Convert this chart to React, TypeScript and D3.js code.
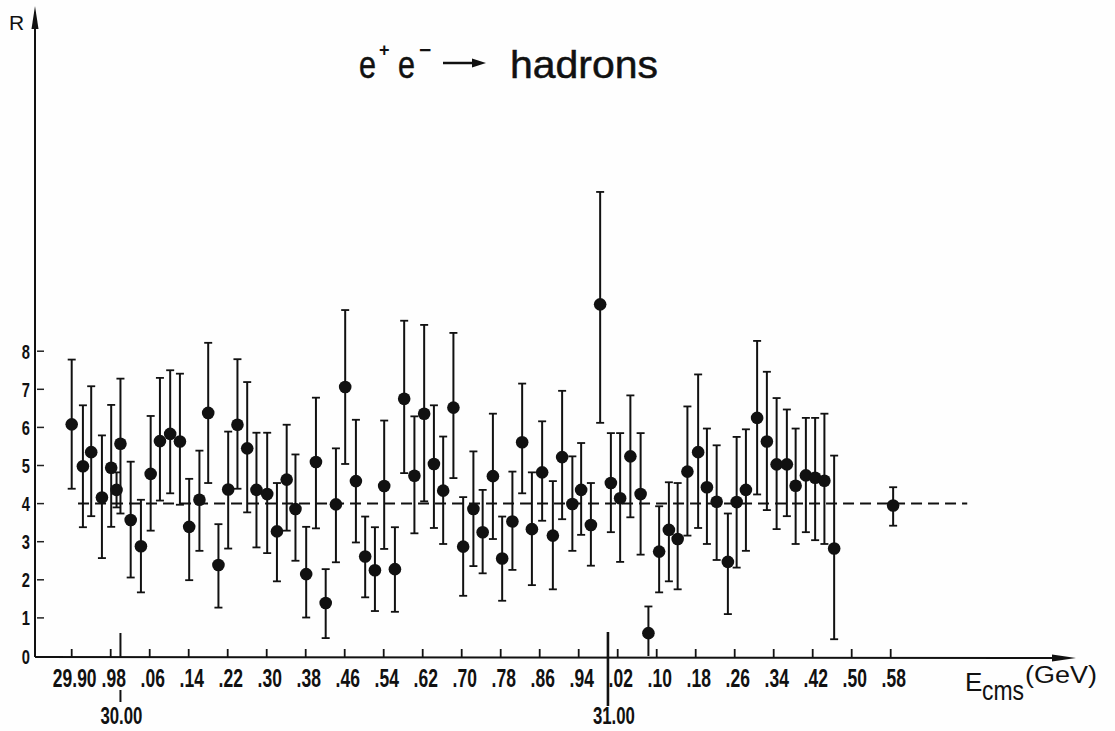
import React from "react";
import * as d3 from "d3";

// Centre-of-mass energy (GeV) of each measurement
const energies = [
  29.900, 29.923, 29.940, 29.962, 29.981, 29.992, 30.000, 30.021, 30.042, 30.062,
  30.081, 30.102, 30.122, 30.141, 30.162, 30.180, 30.201, 30.221, 30.240, 30.260,
  30.279, 30.301, 30.321, 30.341, 30.359, 30.381, 30.401, 30.421, 30.442, 30.461,
  30.483, 30.502, 30.522, 30.541, 30.563, 30.582, 30.603, 30.623, 30.643, 30.662,
  30.683, 30.703, 30.724, 30.743, 30.764, 30.783, 30.804, 30.824, 30.844, 30.865,
  30.887, 30.906, 30.927, 30.945, 30.965, 30.984, 31.006, 31.025, 31.046, 31.067,
  31.083, 31.105, 31.125, 31.143, 31.163, 31.185, 31.203, 31.223, 31.246, 31.264,
  31.283, 31.306, 31.326, 31.346, 31.367, 31.385, 31.406, 31.425, 31.444, 31.464,
  31.585,
];

// Measured R
const rValues = [
  6.08, 4.98, 5.35, 4.16, 4.94, 4.36, 5.57, 3.57, 2.88, 4.78,
  5.64, 5.83, 5.63, 3.39, 4.10, 6.38, 2.39, 4.37, 6.07, 5.45,
  4.36, 4.25, 3.27, 4.63, 3.86, 2.15, 5.09, 1.39, 3.98, 7.06,
  4.59, 2.61, 2.25, 4.46, 2.28, 6.75, 4.73, 6.36, 5.04, 4.34,
  6.52, 2.87, 3.86, 3.25, 4.72, 2.56, 3.53, 5.61, 3.33, 4.82,
  3.16, 5.22, 3.99, 4.36, 3.44, 9.23, 4.54, 4.14, 5.24, 4.25,
  0.60, 2.74, 3.31, 3.07, 4.84, 5.35, 4.43, 4.05, 2.47, 4.04,
  4.36, 6.25, 5.63, 5.03, 5.03, 4.47, 4.74, 4.68, 4.60, 2.82,
  3.95,
];

// Upper end of error bar
const errTop = [
  7.78, 6.58, 7.08, 5.79, 6.59, 4.82, 7.28, 5.10, 4.10, 6.30,
  7.30, 7.50, 7.41, 4.65, 5.39, 8.22, 3.46, 5.89, 7.79, 7.19,
  5.86, 5.86, 4.54, 6.07, 5.29, 3.39, 6.78, 2.28, 5.45, 9.08,
  6.20, 3.66, 3.38, 6.18, 3.38, 8.80, 6.29, 8.69, 6.58, 5.76,
  8.48, 4.17, 5.37, 4.36, 6.36, 3.66, 4.84, 7.15, 4.82, 6.16,
  4.59, 6.96, 5.24, 5.59, 4.54, 12.18, 5.85, 5.85, 6.84, 5.85,
  1.30, 3.93, 4.56, 4.54, 6.55, 7.39, 5.97, 5.53, 3.74, 5.75,
  5.95, 8.27, 7.46, 6.77, 6.47, 5.97, 6.25, 6.25, 6.36, 5.26,
  4.43,
];

// Lower end of error bar
const errBottom = [
  4.39, 3.38, 3.67, 2.57, 3.39, 3.90, 3.74, 2.06, 1.67, 3.29,
  4.08, 4.27, 3.97, 1.99, 2.76, 4.54, 1.27, 2.82, 4.39, 3.77,
  2.85, 2.70, 1.96, 3.29, 2.50, 1.01, 3.35, 0.47, 2.46, 5.04,
  2.98, 1.54, 1.18, 2.81, 1.16, 4.80, 3.22, 4.06, 3.36, 2.94,
  4.67, 1.58, 2.36, 2.17, 3.07, 1.45, 2.26, 4.27, 1.86, 3.55,
  1.75, 3.59, 2.76, 3.18, 2.37, 6.12, 3.25, 2.47, 3.64, 2.66,
  0.00, 1.67, 1.96, 1.75, 3.16, 3.36, 2.94, 2.52, 1.10, 2.32,
  2.76, 4.24, 3.83, 3.33, 3.67, 2.94, 3.25, 3.04, 2.94, 0.44,
  3.42,
];

const tickEnergies = [
  29.90, 29.98, 30.06, 30.14, 30.22, 30.30, 30.38, 30.46, 30.54, 30.62, 30.70,
  30.78, 30.86, 30.94, 31.02, 31.10, 31.18, 31.26, 31.34, 31.42, 31.50, 31.58,
];
const tickLabels = [
  "29.90", ".98", ".06", ".14", ".22", ".30", ".38", ".46", ".54", ".62", ".70",
  ".78", ".86", ".94", ".02", ".10", ".18", ".26", ".34", ".42", ".50", ".58",
];
const majorEnergies = [30.0, 31.0];
const majorLabels = ["30.00", "31.00"];
const yTicks = [0, 1, 2, 3, 4, 5, 6, 7, 8];
const refLevel = 4;
const refRange = [29.913, 31.737];

const FONT = "'Liberation Sans', Arial, sans-serif";

export default function App() {
  const x = d3.scaleLinear().domain([29.9, 31.58]).range([71.7, 890.7]);
  const y = d3.scaleLinear().domain([0, 8]).range([656, 351.2]);
  const axisY = 657;
  const axisX = 35;

  const points = energies.map((e, i) => ({
    e,
    r: rValues[i],
    hi: errTop[i],
    lo: errBottom[i],
  }));

  const condensed = (px: number, py: number) => `translate(${px},${py}) scale(0.7,1)`;

  return (
    <svg
      width={1115}
      height={731}
      style={{ position: "absolute", left: 0, top: 0, background: "#fff" }}
      fontFamily={FONT}
    >
      <rect x={0} y={0} width={1115} height={731} fill="#fefefe" />

      {/* y axis */}
      <line x1={axisX} y1={axisY} x2={axisX} y2={26} stroke="#111" strokeWidth={2} />
      <path d={`M${axisX},6 L${axisX - 3.5},29 L${axisX + 3.5},29 Z`} fill="#111" />
      <text x={9} y={30} fontSize={21} fill="#111">R</text>

      {yTicks.map((t) => (
        <g key={"yt" + t}>
          {t > 0 && (
            <line x1={axisX + 2} x2={axisX + 9} y1={y(t)} y2={y(t)} stroke="#222" strokeWidth={1.5} />
          )}
          <text
            transform={condensed(30, y(t) + 7.5)}
            textAnchor="end"
            fontSize={21}
            fontWeight="bold"
            fill="#111"
          >
            {t}
          </text>
        </g>
      ))}

      {/* x axis */}
      <line x1={axisX} y1={axisY} x2={1058} y2={axisY + 1} stroke="#111" strokeWidth={2} />
      <path d={`M1076,${axisY + 1} L1052,${axisY - 2.5} L1052,${axisY + 4.5} Z`} fill="#111" />

      {tickEnergies.map((t, i) => (
        <g key={"xt" + i}>
          <line x1={x(t)} x2={x(t)} y1={axisY} y2={axisY - 8} stroke="#111" strokeWidth={1.8} />
          <text
            transform={condensed(x(t) + 3, 687)}
            textAnchor="middle"
            fontSize={25}
            fontWeight="bold"
            fill="#111"
          >
            {tickLabels[i]}
          </text>
        </g>
      ))}

      {/* 30.00 marker */}
      <line x1={x(majorEnergies[0])} x2={x(majorEnergies[0])} y1={633} y2={axisY} stroke="#111" strokeWidth={2} />
      <line x1={x(majorEnergies[0])} x2={x(majorEnergies[0])} y1={690} y2={702} stroke="#111" strokeWidth={2} />
      <text transform={condensed(x(majorEnergies[0]) + 1, 724)} textAnchor="middle" fontSize={24} fontWeight="bold" fill="#111">
        {majorLabels[0]}
      </text>
      {/* 31.00 marker */}
      <line x1={x(majorEnergies[1])} x2={x(majorEnergies[1])} y1={632} y2={706} stroke="#111" strokeWidth={2.6} />
      <text transform={condensed(x(majorEnergies[1]) + 6, 724)} textAnchor="middle" fontSize={24} fontWeight="bold" fill="#111">
        {majorLabels[1]}
      </text>

      {/* axis title */}
      <text x={965} y={691} fontSize={26} fill="#111">E</text>
      <text x={982} y={700} fontSize={28} fill="#111" textLength={42} lengthAdjust="spacingAndGlyphs">cms</text>
      <text x={1025} y={683} fontSize={23} fill="#111" textLength={72} lengthAdjust="spacingAndGlyphs">(GeV)</text>

      {/* reference line R = 4 */}
      <line
        x1={x(refRange[0])}
        x2={x(refRange[1])}
        y1={y(refLevel)}
        y2={y(refLevel)}
        stroke="#111"
        strokeWidth={2}
        strokeDasharray="11,6"
      />

      {/* data */}
      {points.map((p, i) => {
        const cx = x(p.e);
        return (
          <g key={"p" + i}>
            <line x1={cx} x2={cx} y1={y(p.hi)} y2={y(p.lo)} stroke="#111" strokeWidth={2} />
            <line x1={cx - 4} x2={cx + 4} y1={y(p.hi)} y2={y(p.hi)} stroke="#111" strokeWidth={1.8} />
            {p.lo > 0 && (
              <line x1={cx - 4} x2={cx + 4} y1={y(p.lo)} y2={y(p.lo)} stroke="#111" strokeWidth={1.8} />
            )}
            <circle cx={cx} cy={y(p.r)} r={6.3} fill="#111" />
          </g>
        );
      })}

      {/* title */}
      <g fill="#111" stroke="#111" strokeWidth={0.5}>
        <text x={359} y={78} fontSize={38} textLength={17} lengthAdjust="spacingAndGlyphs">e</text>
        <text x={379} y={56} fontSize={18} fontWeight="bold" strokeWidth={0}>+</text>
        <text x={398} y={78} fontSize={38} textLength={17} lengthAdjust="spacingAndGlyphs">e</text>
        <text x={419} y={57} fontSize={21} fontWeight="bold" strokeWidth={0}>−</text>
        <line x1={443} x2={474} y1={63} y2={63} stroke="#111" strokeWidth={2.5} />
        <path d="M486,63 L472,58.5 L472,67.5 Z" strokeWidth={0} />
        <text x={510} y={78} fontSize={38} textLength={148} lengthAdjust="spacingAndGlyphs">hadrons</text>
      </g>
    </svg>
  );
}
